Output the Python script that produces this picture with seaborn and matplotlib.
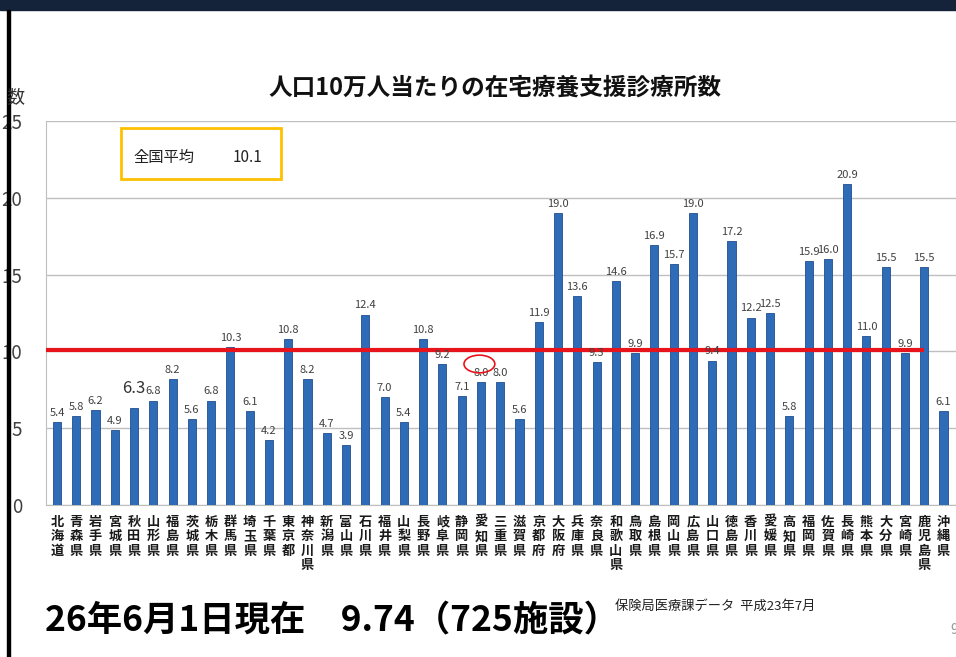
import numpy as np
import pandas as pd
import matplotlib.pyplot as plt
import seaborn as sns
from matplotlib.patches import Rectangle, Ellipse

# データ（人口10万人当たりの在宅療養支援診療所数）
prefectures = ["北海道", "青森県", "岩手県", "宮城県", "秋田県", "山形県", "福島県", "茨城県",
               "栃木県", "群馬県", "埼玉県", "千葉県", "東京都", "神奈川県", "新潟県", "富山県",
               "石川県", "福井県", "山梨県", "長野県", "岐阜県", "静岡県", "愛知県", "三重県",
               "滋賀県", "京都府", "大阪府", "兵庫県", "奈良県", "和歌山県", "鳥取県", "島根県",
               "岡山県", "広島県", "山口県", "徳島県", "香川県", "愛媛県", "高知県", "福岡県",
               "佐賀県", "長崎県", "熊本県", "大分県", "宮崎県", "鹿児島県", "沖縄県"]
values = [5.4, 5.8, 6.2, 4.9, 6.3, 6.8, 8.2, 5.6,
          6.8, 10.3, 6.1, 4.2, 10.8, 8.2, 4.7, 3.9,
          12.4, 7.0, 5.4, 10.8, 9.2, 7.1, 8.0, 8.0,
          5.6, 11.9, 19.0, 13.6, 9.3, 14.6, 9.9, 16.9,
          15.7, 19.0, 9.4, 17.2, 12.2, 12.5, 5.8, 15.9,
          16.0, 20.9, 11.0, 15.5, 9.9, 15.5, 6.1]
national_avg = 10.1
y_ticks = [0, 5, 10, 15, 20, 25]

df = pd.DataFrame({"都道府県": prefectures, "診療所数": values})

sns.set_style("white")
plt.rcParams["font.family"] = ["Noto Sans CJK JP", "DejaVu Sans"]

fig = plt.figure(figsize=(9.56, 6.57), dpi=100)

# スライドの枠（上の帯と左の線）
fig.patches.append(Rectangle((0, 1 - 10 / 657), 1, 10 / 657, transform=fig.transFigure,
                             color="#14233A", zorder=0))
fig.patches.append(Rectangle((7 / 956, 0), 3 / 956, 1 - 10 / 657, transform=fig.transFigure,
                             color="black", zorder=0))

ax = fig.add_axes([46 / 956, 1 - 505 / 657, 910 / 956, 384 / 657])
sns.barplot(data=df, x="都道府県", y="診療所数", color="#2E6CB8", width=0.42, saturation=1,
            edgecolor="#1F4F8F", linewidth=0.6, ax=ax, zorder=3)

ax.set_xlim(-0.57, 46.65)
ax.set_ylim(0, 25)
ax.set_yticks(y_ticks)
ax.set_yticklabels([str(t) for t in y_ticks], fontsize=13.5, color="#404040")
ax.grid(axis="y", color="#BFBFBF", linewidth=1, zorder=0)
ax.set_axisbelow(True)
ax.set_xlabel("")
ax.set_ylabel("")

# x軸ラベルを縦書きに
ax.set_xticks(range(len(prefectures)))
ax.set_xticklabels(["\n".join(p) for p in prefectures], fontsize=9.5, fontweight="bold",
                   linespacing=1.05, color="#1A1A1A", va="top")
ax.set_xticks(np.arange(len(prefectures) + 1) - 0.5, minor=True)
ax.tick_params(axis="x", which="major", length=0, pad=7)
ax.tick_params(axis="x", which="minor", length=4, color="#BFBFBF", width=1)
ax.tick_params(axis="y", length=5, color="#BFBFBF", pad=12)
for s in ["top", "right"]:
    ax.spines[s].set_visible(False)
for s in ["left", "bottom"]:
    ax.spines[s].set_color("#BFBFBF")

# 値ラベル
for i, v in enumerate(values):
    if prefectures[i] == "秋田県":
        ax.annotate(f"{v:.1f}", (i, v), xytext=(0, 8), textcoords="offset points",
                    ha="center", va="bottom", fontsize=12, color="#333333", zorder=5)
    else:
        ax.annotate(f"{v:.1f}", (i, v), xytext=(0, 3), textcoords="offset points",
                    ha="center", va="bottom", fontsize=8, color="#404040", zorder=5)

# 全国平均の線
i_end = prefectures.index("鹿児島県")
ax.hlines(national_avg, -0.57, i_end, color="#E8141C", linewidth=3, zorder=4)

# 愛知県の赤丸
i_aichi = prefectures.index("愛知県")
ax.add_patch(Ellipse((i_aichi - 0.08, values[i_aichi] + 1.18), 1.6, 1.15,
                     fill=False, edgecolor="#E8141C", linewidth=1.2, zorder=6))

# 全国平均の枠
box = Rectangle(((121 - 46) / 910, (505 - 179) / 384), 160 / 910, 51 / 384,
                transform=ax.transAxes, fill=False, edgecolor="#FFC000", linewidth=2, zorder=6)
ax.add_patch(box)
ax.text((133 - 46) / 910, (505 - 157) / 384, "全国平均", transform=ax.transAxes,
        fontsize=11, va="center", ha="left", color="#222222")
ax.text((233 - 46) / 910, (505 - 157) / 384, f"{national_avg}", transform=ax.transAxes,
        fontsize=11, va="center", ha="left", color="#222222")

# タイトル等
fig.text(495 / 956, 1 - 88 / 657, "人口10万人当たりの在宅療養支援診療所数", ha="center",
         va="center", fontsize=17, fontweight="bold", color="#111111")
fig.text(15 / 956, 1 - 97 / 657, "数", ha="center", va="center", fontsize=13, color="#333333")
fig.text(45 / 956, 1 - 621 / 657, "26年6月1日現在　9.74（725施設）", ha="left", va="center",
         fontsize=25.5, fontweight="bold", color="black")
fig.text(615 / 956, 1 - 606 / 657, "保険局医療課データ  平成23年7月", ha="left", va="center",
         fontsize=9.5, color="#222222")
fig.text(950 / 956, 1 - 630 / 657, "9", ha="left", va="center", fontsize=10, color="#999999")

plt.savefig("out.png", dpi=100)
